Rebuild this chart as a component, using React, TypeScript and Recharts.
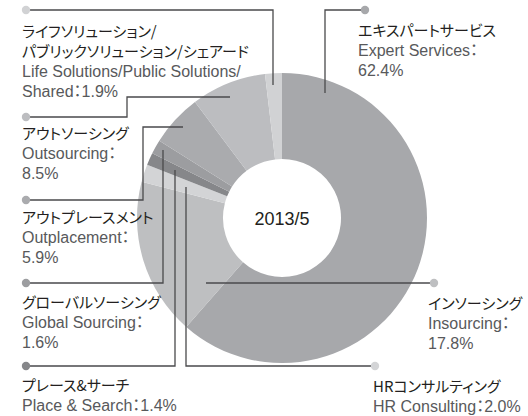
import { PieChart, Pie, Cell } from "recharts";

// ── データ ──

const NAMES_JA: string[][] = [
  ["エキスパートサービス"],
  ["インソーシング"],
  ["HRコンサルティング"],
  ["プレース&サーチ"],
  ["グローバルソーシング"],
  ["アウトプレースメント"],
  ["アウトソーシング"],
  ["ライフソリューション/", "パブリックソリューション/シェアード"],
];

const NAMES_EN: string[][] = [
  ["Expert Services："],
  ["Insourcing："],
  ["HR Consulting："],
  ["Place & Search："],
  ["Global Sourcing："],
  ["Outplacement："],
  ["Outsourcing："],
  ["Life Solutions/Public Solutions/", "Shared："],
];

const SHARES = [62.4, 17.8, 2.0, 1.4, 1.6, 5.9, 8.5, 1.9];

const PERIOD = "2013/5";

// ── 색상 ──

const COLORS = ["#a7a8ab", "#bebfc1", "#d3d4d6", "#86878a", "#9c9da0", "#aaabae", "#bcbdc0", "#d1d2d4"];

// ── 레이아웃 (라벨 위치, 지시선) ──

type LabelLayout = { path: number[][]; x: number; y: number; inline: boolean };

const LAYOUT: LabelLayout[] = [
  { path: [[365, 10], [325, 10], [325, 93]], x: 358, y: 36, inline: false },
  { path: [[434, 283], [206, 283]], x: 428, y: 309, inline: false },
  { path: [[375, 366], [186, 366], [186, 187]], x: 373, y: 392, inline: true },
  { path: [[26, 366], [175, 366], [175, 170]], x: 22, y: 391, inline: true },
  { path: [[26, 283], [163, 283], [163, 150]], x: 22, y: 308, inline: false },
  { path: [[26, 200], [143, 200], [143, 127], [183, 127]], x: 22, y: 223, inline: false },
  { path: [[26, 117], [127, 117], [127, 97], [230, 97]], x: 22, y: 139, inline: false },
  { path: [[26, 10], [273, 10], [273, 85]], x: 22, y: 37, inline: true },
];

const LINE_GAP = 20;
const JA_FONT = '"Noto Sans CJK JP", sans-serif';
const EN_FONT = '"Liberation Sans", "Noto Sans CJK JP", sans-serif';

const data = SHARES.map((v, i) => ({ name: NAMES_EN[i].join(""), value: v }));

function renderLabel(props: { index: number; cx: number; cy: number }) {
  const { index, cx, cy } = props;
  const lay = LAYOUT[index];
  const pct = `${SHARES[index].toFixed(1)}%`;
  const en = [...NAMES_EN[index]];
  if (lay.inline) en[en.length - 1] = en[en.length - 1] + pct;
  else en.push(pct);
  const ja = NAMES_JA[index];
  const [dx, dy] = lay.path[0];
  return (
    <g key={`lbl-${index}`}>
      <polyline
        points={lay.path.map((p) => p.join(",")).join(" ")}
        fill="none"
        stroke="#4a4a4c"
        strokeWidth={1.3}
      />
      <circle cx={dx} cy={dy} r={4.2} fill={COLORS[index]} />
      {ja.map((t, i) => (
        <text
          key={`ja-${i}`}
          x={lay.x}
          y={lay.y + i * LINE_GAP}
          fontFamily={JA_FONT}
          fontSize={15}
          fill="#231f20"
          style={{ fontFeatureSettings: '"palt"' }}
        >
          {t}
        </text>
      ))}
      {en.map((t, i) => (
        <text
          key={`en-${i}`}
          x={lay.x}
          y={lay.y + (ja.length + i) * LINE_GAP}
          fontFamily={EN_FONT}
          fontSize={16}
          fill="#58595b"
          style={{ fontFeatureSettings: '"palt"' }}
        >
          {t}
        </text>
      ))}
      {index === 0 && (
        <text
          x={cx}
          y={cy + 7}
          textAnchor="middle"
          fontFamily={EN_FONT}
          fontSize={18}
          fill="#231f20"
        >
          {PERIOD}
        </text>
      )}
    </g>
  );
}

export default function App() {
  return (
    <div style={{ position: "absolute", left: 0, top: 0, background: "#fff" }}>
      <PieChart width={528} height={416} margin={{ top: 0, right: 0, bottom: 0, left: 0 }}>
        <Pie
          data={data}
          dataKey="value"
          nameKey="name"
          cx={282}
          cy={218}
          innerRadius={59}
          outerRadius={145}
          startAngle={90}
          endAngle={-270}
          stroke="none"
          label={renderLabel}
          labelLine={false}
          isAnimationActive={false}
        >
          {data.map((d, i) => (
            <Cell key={d.name} fill={COLORS[i]} />
          ))}
        </Pie>
      </PieChart>
    </div>
  );
}
